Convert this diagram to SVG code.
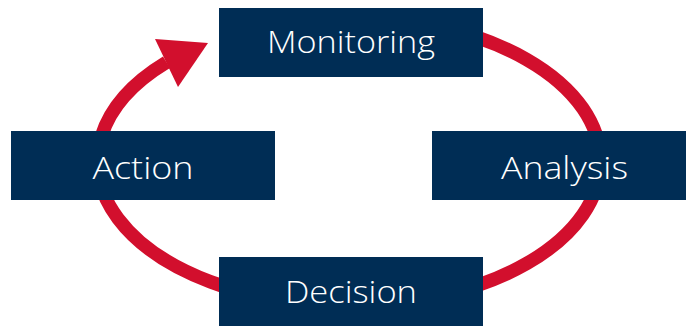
<svg xmlns="http://www.w3.org/2000/svg" width="686" height="329" viewBox="0 0 686 329">
<style>
.box{fill:#002D55}
.lbl{fill:#FFFFFF;font-family:"Open Sans","Liberation Sans",sans-serif;font-size:31px;font-weight:300;text-anchor:middle}
.arc{fill:none;stroke:#D20F2D;stroke-width:13.5}
</style>
<rect width="686" height="329" fill="#FFFFFF"/>
<g id="connectors">
<path class="arc" d="M 349 17.3 A 251.5 144.2 0 0 1 349 305.7 A 251.5 144.2 0 0 1 166.5 62.3"/>
<polygon points="155,39 208,43 178,87" fill="#D20F2D"/>
</g>
<g id="monitoring"><rect class="box" x="219" y="8" width="264" height="69"/><text class="lbl" x="351" y="53" textLength="168" lengthAdjust="spacingAndGlyphs">Monitoring</text></g>
<g id="action"><rect class="box" x="11" y="131" width="264" height="69"/><text class="lbl" x="143" y="179" textLength="101" lengthAdjust="spacingAndGlyphs">Action</text></g>
<g id="analysis"><rect class="box" x="432" y="131" width="264" height="69"/><text class="lbl" x="564.5" y="179" textLength="127" lengthAdjust="spacingAndGlyphs">Analysis</text></g>
<g id="decision"><rect class="box" x="219" y="257" width="264" height="69"/><text class="lbl" x="351" y="303" textLength="132" lengthAdjust="spacingAndGlyphs">Decision</text></g>
</svg>
